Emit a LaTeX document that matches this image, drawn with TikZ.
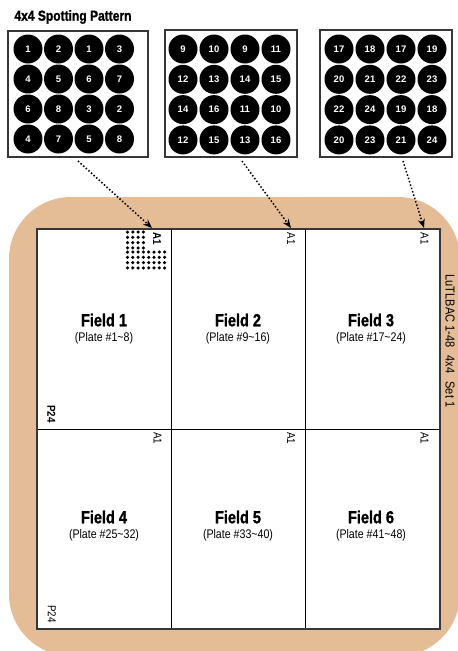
\documentclass[tikz,border=0pt]{standalone}
\usepackage{fontspec}
\setmainfont{Liberation Sans}
\newfontfamily\cond[FakeStretch=0.85]{Liberation Sans}
\newfontfamily\condheavy[FakeStretch=0.83,FakeBold=1.2]{Liberation Sans Bold}
\usetikzlibrary{arrows.meta}
\definecolor{tanbg}{RGB}{228,189,150}
\definecolor{edgegray}{RGB}{55,55,55}
\begin{document}
\begin{tikzpicture}[x=1pt,y=-1pt,
  spotbox/.style={draw=edgegray,line width=1.1pt,fill=white,inner sep=0pt},
  spot/.style={circle,fill=black,minimum size=29pt,inner sep=0pt,text=white,font=\bfseries\fontsize{9.5}{10}\selectfont},
  cell/.style={draw=black,line width=0.9pt,fill=white,inner sep=0pt,minimum width=134pt,minimum height=200pt},
  fieldlbl/.style={font=\condheavy\fontsize{17.5}{20}\selectfont,inner sep=0pt},
  platelbl/.style={font=\cond\fontsize{12.5}{13}\selectfont,inner sep=0pt},
  corner/.style={rotate=-90,inner sep=0pt,font=\cond\fontsize{11.5}{12}\selectfont},
  cornerb/.style={rotate=-90,inner sep=0pt,font=\cond\bfseries\fontsize{11.5}{12}\selectfont},
  ptr/.style={dotted,line width=1.5pt,-{Stealth[length=9pt,width=7pt]}},
  dot/.style={fill=black}
]
\useasboundingbox (0,0) rectangle (458,651);
\clip (0,0) rectangle (458,651);

% title
\node[font=\condheavy\fontsize{14.5}{16}\selectfont,inner sep=0pt] (title) at (73,17) {4x4 Spotting Pattern};

% background tan
\fill[tanbg,rounded corners=62pt] (9,197) rectangle (460,656);

% cells
\node[cell] (c1) at (104,329) {};
\node[cell] (c2) at (238,329) {};
\node[cell] (c3) at (372.5,329) {};
\node[cell] (c4) at (104,529) {};
\node[cell] (c5) at (238,529) {};
\node[cell] (c6) at (372.5,529) {};
\draw[edgegray,line width=1.4pt] (37,229) rectangle (440,629);

% field labels
\node[fieldlbl] (f1) at (104,320) {Field 1};
\node[platelbl] (p1) at (104,338) {(Plate \#1\textasciitilde 8)};
\node[fieldlbl] (f2) at (238,320) {Field 2};
\node[platelbl] (p2) at (238,338) {(Plate \#9\textasciitilde 16)};
\node[fieldlbl] (f3) at (371,320) {Field 3};
\node[platelbl] (p3) at (371,338) {(Plate \#17\textasciitilde 24)};
\node[fieldlbl] (f4) at (104,517) {Field 4};
\node[platelbl] (p4) at (104,535) {(Plate \#25\textasciitilde 32)};
\node[fieldlbl] (f5) at (238,517) {Field 5};
\node[platelbl] (p5) at (238,535) {(Plate \#33\textasciitilde 40)};
\node[fieldlbl] (f6) at (371,517) {Field 6};
\node[platelbl] (p6) at (371,535) {(Plate \#41\textasciitilde 48)};

% corner labels
\node[cornerb] (a1) at (157,238.5) {A1};
\node[corner] (a2) at (291,238.5) {A1};
\node[corner] (a3) at (424.5,238.5) {A1};
\node[corner] (a4) at (157.5,438) {A1};
\node[corner] (a5) at (291,438) {A1};
\node[corner] (a6) at (424.5,438) {A1};
\node[cornerb] (q1) at (51.5,414) {P24};
\node[corner] (q4) at (52,614) {P24};

% side label
\node[rotate=-90,inner sep=0pt,font=\cond\fontsize{13}{14}\selectfont] (side) at (450,341) {LuTLBAC 1-48\hspace{8pt}4x4\hspace{8pt}Set 1};

% dot grid in field 1
\foreach \i in {0,...,3} \foreach \j in {0,...,3}
  \fill[dot] (127.5+5.3*\i,232+5.3*\j) circle (1.75pt);
\foreach \i in {0,...,7} \foreach \j in {0,...,3}
  \fill[dot] (127.5+5.3*\i,252+5.3*\j) circle (1.75pt);

% spotting boxes
\node[spotbox,minimum width=140pt,minimum height=126pt] (b1) at (78,94) {};
\node[spotbox,minimum width=132pt,minimum height=127pt] (b2) at (231,93.5) {};
\node[spotbox,minimum width=132pt,minimum height=127pt] (b3) at (386,93.5) {};

\foreach \r/\row in {0/{1,2,1,3},1/{4,5,6,7},2/{6,8,3,2},3/{4,7,5,8}}
  \foreach \v [count=\c from 0] in \row
    \node[spot] (sa\r\c) at (28+30.5*\c,49+30*\r) {\v};
\foreach \r/\row in {0/{9,10,9,11},1/{12,13,14,15},2/{14,16,11,10},3/{12,15,13,16}}
  \foreach \v [count=\c from 0] in \row
    \node[spot] (sb\r\c) at (183+31*\c,49+30.3*\r) {\v};
\foreach \r/\row in {0/{17,18,17,19},1/{20,21,22,23},2/{22,24,19,18},3/{20,23,21,24}}
  \foreach \v [count=\c from 0] in \row
    \node[spot] (sc\r\c) at (339+31*\c,49+30.3*\r) {\v};

% arrows
\coordinate (s1) at (78,161);
\coordinate (t1) at (152,228);
\coordinate (s2) at (242,161);
\coordinate (t2) at (291,228);
\coordinate (s3) at (403,161);
\coordinate (t3) at (424,228);
\draw[ptr] (s1) -- (t1);
\draw[ptr] (s2) -- (t2);
\draw[ptr] (s3) -- (t3);
\end{tikzpicture}
\end{document}
